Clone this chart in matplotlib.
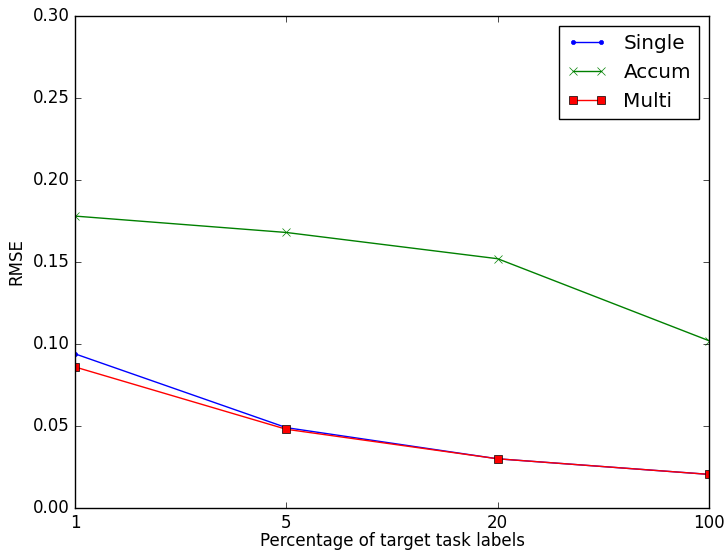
import matplotlib
matplotlib.use("Agg")
import matplotlib.pyplot as plt

plt.style.use("classic")

labels = ["1", "5", "20", "100"]
single = [0.094, 0.049, 0.030, 0.0205]
accum = [0.178, 0.168, 0.152, 0.102]
multi = [0.086, 0.048, 0.030, 0.0205]

x = range(len(labels))

fig = plt.figure(figsize=(7.27, 5.52), dpi=100, facecolor="white")
ax = fig.add_axes([75 / 727, 1 - 508 / 552, 634 / 727, 492 / 552])

ax.plot(x, single, "b.-", label="Single")
ax.plot(x, accum, "gx-", label="Accum")
ax.plot(x, multi, "rs-", label="Multi")

ax.set_xlim(0, len(labels) - 1)
ax.set_ylim(0, 0.30)
ax.set_xticks(list(x))
ax.set_xticklabels(labels)
ax.set_xlabel("Percentage of target task labels", fontsize=12, labelpad=0)
ax.set_ylabel("RMSE", fontsize=12)
ax.legend(loc="upper right")

fig.savefig("out.png", dpi=100, facecolor="white")
